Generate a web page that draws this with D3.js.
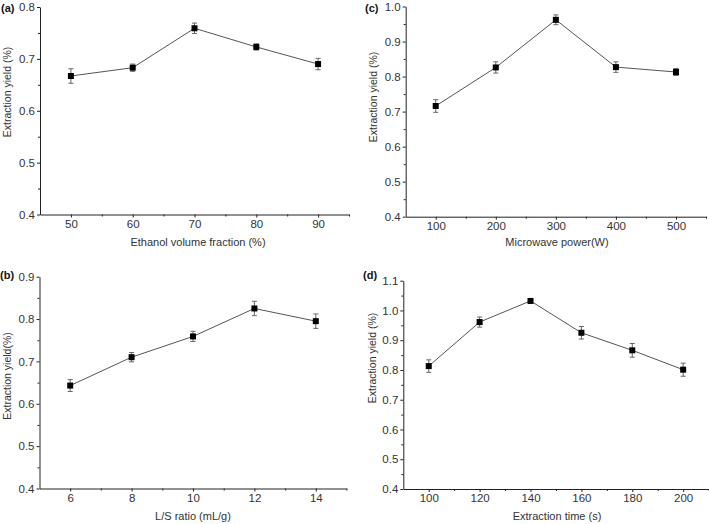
<!DOCTYPE html>
<html>
<head>
<meta charset="utf-8">
<script src="https://cdn.jsdelivr.net/npm/d3@7"></script>
<style>
  html, body { margin: 0; padding: 0; background: #fff; }
  svg { display: block; font-family: "Liberation Sans", Arial, sans-serif; }
</style>
</head>
<body>
<svg id="chart" width="709" height="524"></svg>
<script>
// ---------- data ----------
const ethanolX = [50, 60, 70, 80, 90];
const ethanolY = [0.667, 0.683, 0.759, 0.723, 0.690];
const ethanolErr = [0.014, 0.007, 0.010, 0.006, 0.011];

const powerX = [100, 200, 300, 400, 500];
const powerY = [0.716, 0.826, 0.962, 0.827, 0.813];
const powerErr = [0.018, 0.016, 0.014, 0.015, 0.010];

const ratioX = [6, 8, 10, 12, 14];
const ratioY = [0.643, 0.710, 0.759, 0.825, 0.795];
const ratioErr = [0.014, 0.011, 0.012, 0.017, 0.017];

const timeX = [100, 120, 140, 160, 180, 200];
const timeY = [0.813, 0.961, 1.032, 0.925, 0.866, 0.801];
const timeErr = [0.021, 0.017, 0.008, 0.021, 0.023, 0.022];

const ethanolTicks = [50, 60, 70, 80, 90];
const ethanolMinor = [55, 65, 75, 85, 95];
const powerTicks = [100, 200, 300, 400, 500];
const powerMinor = [150, 250, 350, 450, 550];
const ratioTicks = [6, 8, 10, 12, 14];
const ratioMinor = [7, 9, 11, 13, 15];
const timeTicks = [100, 120, 140, 160, 180, 200];
const timeMinor = [110, 130, 150, 170, 190, 210];

const yTicksA = [0.4, 0.5, 0.6, 0.7, 0.8];
const yTicksB = [0.4, 0.5, 0.6, 0.7, 0.8, 0.9];
const yTicksC = [0.4, 0.5, 0.6, 0.7, 0.8, 0.9, 1.0];
const yTicksD = [0.4, 0.5, 0.6, 0.7, 0.8, 0.9, 1.0, 1.1];

const panelTags = ["(a)", "(b)", "(c)", "(d)"];
const xTitles = ["Ethanol volume fraction (%)", "L/S ratio (mL/g)", "Microwave power(W)", "Extraction time (s)"];
const yTitles = ["Extraction yield (%)", "Extraction yield(%)", "Extraction yield (%)", "Extraction yield (%)"];

// ---------- layout ----------
const panels = [
  { tag: panelTags[0], x: ethanolX, y: ethanolY, e: ethanolErr, xt: ethanolTicks, xm: ethanolMinor, yt: yTicksA,
    xd: [45, 95], yd: [0.4, 0.8], xr: [40, 349], yr: [214.5, 7],
    xTitle: xTitles[0], yTitle: yTitles[0], xtx: 198, xty: 246, ytx: 11, yty: 92, tagx: 1, tagy: 12 },
  { tag: panelTags[1], x: ratioX, y: ratioY, e: ratioErr, xt: ratioTicks, xm: ratioMinor, yt: yTicksB,
    xd: [5, 15], yd: [0.4, 0.9], xr: [39.5, 346.5], yr: [488.5, 276.7],
    xTitle: xTitles[1], yTitle: yTitles[1], xtx: 193, xty: 520, ytx: 11, yty: 376, tagx: 0, tagy: 279 },
  { tag: panelTags[2], x: powerX, y: powerY, e: powerErr, xt: powerTicks, xm: powerMinor, yt: yTicksC,
    xd: [50, 550], yd: [0.4, 1.0], xr: [405.7, 706], yr: [216.7, 6.5],
    xTitle: xTitles[2], yTitle: yTitles[2], xtx: 557, xty: 246, ytx: 377, yty: 97, tagx: 365, tagy: 12 },
  { tag: panelTags[3], x: timeX, y: timeY, e: timeErr, xt: timeTicks, xm: timeMinor, yt: yTicksD,
    xd: [90, 210], yd: [0.4, 1.1], xr: [403.3, 708.6], yr: [489, 280.7],
    xTitle: xTitles[3], yTitle: yTitles[3], xtx: 557, xty: 520, ytx: 376, yty: 358, tagx: 363, tagy: 279 }
];

const svg = d3.select("#chart");
const axisColor = "#222";
const textColor = "#333";

panels.forEach(p => {
  const xs = d3.scaleLinear().domain(p.xd).range(p.xr);
  const ys = d3.scaleLinear().domain(p.yd).range(p.yr);
  const g = svg.append("g");

  // x axis
  g.append("g").attr("transform", `translate(0,${p.yr[0]})`)
    .call(d3.axisBottom(xs).tickValues(p.xt).tickSize(3).tickSizeOuter(0).tickPadding(2).tickFormat(d3.format("d")));
  g.append("g").attr("transform", `translate(0,${p.yr[0]})`)
    .call(d3.axisBottom(xs).tickValues(p.xm).tickSize(2).tickSizeOuter(0).tickFormat(""))
    .select(".domain").remove();

  // y axis
  g.append("g").attr("transform", `translate(${p.xr[0]},0)`)
    .call(d3.axisLeft(ys).tickValues(p.yt).tickSize(3).tickSizeOuter(0).tickPadding(2).tickFormat(d3.format(".1f")));
  const yMinor = p.yt.slice(0, -1).map(v => v + 0.05);
  g.append("g").attr("transform", `translate(${p.xr[0]},0)`)
    .call(d3.axisLeft(ys).tickValues(yMinor).tickSize(2).tickSizeOuter(0).tickFormat(""))
    .select(".domain").remove();

  g.selectAll(".domain").attr("stroke", axisColor).attr("stroke-width", 1);
  g.selectAll(".tick line").attr("stroke", axisColor).attr("stroke-width", 1);
  g.selectAll(".tick text").attr("fill", textColor).style("font-size", "11.5px")
    .style("font-family", "'Liberation Sans', Arial, sans-serif");

  // line
  const pts = p.x.map((v, i) => ({ x: v, y: p.y[i], e: p.e[i] }));
  g.append("path").datum(pts)
    .attr("fill", "none").attr("stroke", "#555").attr("stroke-width", 1)
    .attr("d", d3.line().x(d => xs(d.x)).y(d => ys(d.y)));

  // error bars
  const eb = g.append("g").attr("stroke", "#666").attr("stroke-width", 1);
  pts.forEach(d => {
    const cx = xs(d.x), y1 = ys(d.y - d.e), y2 = ys(d.y + d.e);
    eb.append("line").attr("x1", cx).attr("x2", cx).attr("y1", y1).attr("y2", y2);
    eb.append("line").attr("x1", cx - 2.5).attr("x2", cx + 2.5).attr("y1", y1).attr("y2", y1);
    eb.append("line").attr("x1", cx - 2.5).attr("x2", cx + 2.5).attr("y1", y2).attr("y2", y2);
  });

  // markers
  g.selectAll("rect.mk").data(pts).enter().append("rect").attr("class", "mk")
    .attr("x", d => xs(d.x) - 3).attr("y", d => ys(d.y) - 3)
    .attr("width", 6).attr("height", 6).attr("fill", "#000");

  // titles
  g.append("text").attr("x", p.xtx).attr("y", p.xty).attr("text-anchor", "middle")
    .attr("fill", textColor).style("font-size", "11px").text(p.xTitle);
  g.append("text").attr("transform", `translate(${p.ytx},${p.yty}) rotate(-90)`)
    .attr("text-anchor", "middle").attr("fill", textColor).style("font-size", "10.5px").text(p.yTitle);
  g.append("text").attr("x", p.tagx).attr("y", p.tagy)
    .attr("fill", "#111").style("font-size", "11px").style("font-weight", "bold").text(p.tag);
});
</script>
</body>
</html>
